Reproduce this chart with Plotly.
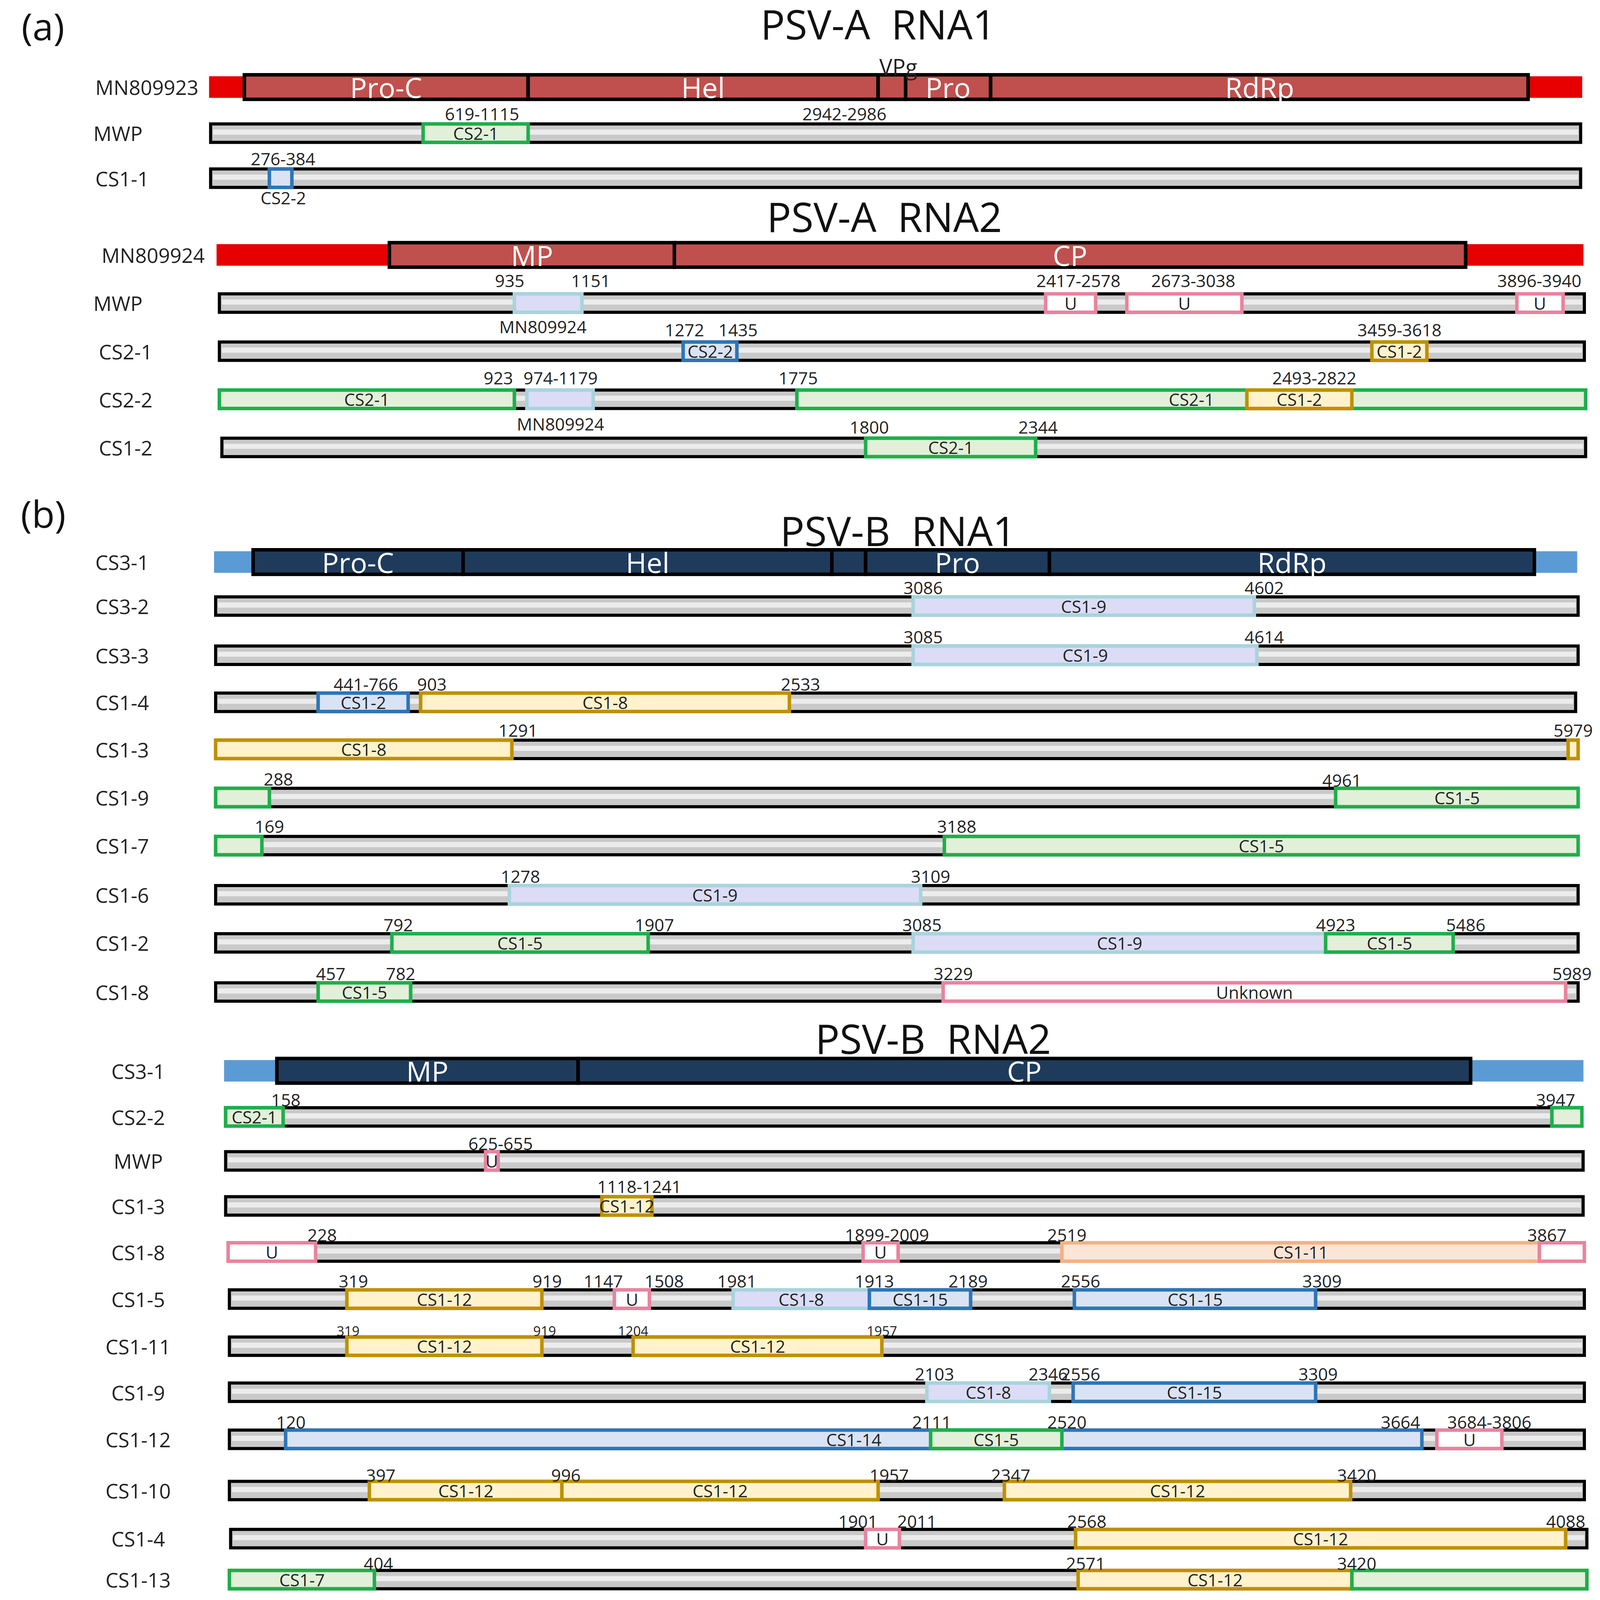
import plotly.graph_objects as go

# ---------------- rows: label, y-position (schematic), backbone start/end ----------------
row_names = ["MN809923","MWP","CS1-1",
             "MN809924","MWP","CS2-1","CS2-2","CS1-2",
             "CS3-1","CS3-2","CS3-3","CS1-4","CS1-3","CS1-9","CS1-7","CS1-6","CS1-2","CS1-8",
             "CS3-1","CS2-2","MWP","CS1-3","CS1-8","CS1-5","CS1-11","CS1-9","CS1-12","CS1-10","CS1-4","CS1-13"]
row_y = [82,127,171, 246,293,340,387,434,
         546,589,637,683,729,776,823,871,918,966,
         1043,1088,1131,1175,1220,1266,1312,1357,1403,1453,1500,1540]
row_x0 = [166,166,166, 172,173,173,173,175,
          170,170,170,170,170,170,170,170,170,170,
          178,178,178,178,180,181,181,181,181,181,182,181]
row_x1 = [1262,1262,1262, 1263,1265,1265,1266,1266,
          1258,1260,1260,1258,1260,1260,1260,1260,1260,1260,
          1263,1263,1264,1264,1265,1265,1265,1265,1265,1265,1267,1267]
row_kind = ["red","grey","grey","red","grey","grey","grey","grey",
            "blue"] + ["grey"]*9 + ["blue"] + ["grey"]*11
row_label_x = [115,92,95, 120,92,98,98,98] + [95]*10 + [108]*12

# ---------------- segments: row index, start, end, label, kind ----------------
seg_row = [0,0,0,0,0, 1, 2,
           3,3, 4,4,4,4, 5,5, 6,6,6,6, 7,
           8,8,8,8,8, 9, 10, 11,11, 12,12, 13,13, 14,14, 15, 16,16,16, 17,17,
           18,18, 19,19, 20, 21, 22,22,22,22, 23,23,23,23,23, 24,24, 25,25,
           26,26,26, 27,27,27, 28,28, 29,29,29]
seg_x0 = [193,420,700,722,790, 336, 213,
          309,537, 409,834,899,1211, 544,1095, 173,419,635,995, 690,
          200,368,663,690,837, 728, 728, 252,334, 170,1252, 170,1066, 170,753, 405, 311,728,1058, 252,752,
          219,460, 178,1239, 386, 479, 180,688,847,1229, 275,489,584,693,857, 275,504, 739,856,
          226,742,1147, 293,447,801, 690,858, 181,860,1079]
seg_x1 = [420,700,722,790,1220, 420, 231,
          537,1170, 463,874,991,1248, 587,1139, 409,472,1266,1079, 826,
          368,663,690,837,1225, 1001, 1003, 324,629, 407,1260, 213,1260, 207,1260, 734, 516,1058,1160, 326,1250,
          460,1174, 224,1263, 396, 519, 250,716,1229,1265, 431,517,693,774,1050, 431,703, 837,1050,
          1135,847,1199, 447,700,1078, 717,1250, 297,1079,1267]
seg_label = ["Pro-C","Hel","","Pro","RdRp", "CS2-1", "",
             "MP","CP", "","U","U","U", "CS2-2","CS1-2", "CS2-1","","CS2-1","CS1-2", "CS2-1",
             "Pro-C","Hel","","Pro","RdRp", "CS1-9", "CS1-9", "CS1-2","CS1-8", "CS1-8","", "","CS1-5", "","CS1-5",
             "CS1-9", "CS1-5","CS1-9","CS1-5", "CS1-5","Unknown",
             "MP","CP", "CS2-1","", "U", "CS1-12", "U","U","CS1-11","", "CS1-12","U","CS1-8","CS1-15","CS1-15",
             "CS1-12","CS1-12", "CS1-8","CS1-15",
             "CS1-14","CS1-5","U", "CS1-12","CS1-12","CS1-12", "U","CS1-12", "CS1-7","CS1-12",""]
seg_kind = ["gene"]*5 + ["green","blue"] + ["gene"]*2 + ["lav","pink","pink","pink","blue","yellow",
            "green","lav","green","yellow","green"] + ["dgene"]*5 + ["lav","lav","blue","yellow","yellow","yellow",
            "green","green","green","green","lav","green","lav","green","green","pink",
            "dgene","dgene","green","green","pink","yellow","pink","pink","orange","pink",
            "yellow","pink","lav","blue","blue","yellow","yellow","lav","blue",
            "blue","green","pink","yellow","yellow","yellow","pink","yellow","green","yellow","green"]

# ---------------- number annotations ----------------
num_text = ["619-1115","2942-2986","276-384","CS2-2","VPg",
            "935","1151","MN809924","2417-2578","2673-3038","3896-3940",
            "1272","1435","3459-3618",
            "923","974-1179","MN809924","1775","2493-2822",
            "1800","2344",
            "3086","4602","3085","4614","441-766","903","2533","1291","5979","288","4961","169","3188",
            "1278","3109","792","1907","3085","4923","5486","457","782","3229","5989",
            "158","3947","625-655","1118-1241","228","1899-2009","2519","3867",
            "319","919","1147","1508","1981","1913","2189","2556","3309",
            "2103","2346","2556","3309","120","2111","2520","3664","3684-3806",
            "397","996","1957","2347","3420","1901","2011","2568","4088","404","2571","3420"]
num_x = [383,673,224,224,716,
         405,470,432,860,952,1229, 545,588,1117, 396,446,446,636,1049, 693,828,
         736,1009,736,1009,290,343,638,412,1256,220,1071,213,763,
         414,742,316,521,735,1066,1170,262,318,760,1255,
         226,1242,398,509,255,707,851,1235,
         280,435,480,529,587,697,772,862,1055,
         745,836,862,1052,230,743,851,1118,1189,
         302,450,709,806,1083,684,731,867,1250,300,866,1083]
num_y = [108,108,152,190,62,
         271,271,316,271,271,271, 319,319,319, 366,366,411,366,366, 414,414,
         571,571,619,619,665,665,665,710,710,758,759,804,804,
         853,853,900,900,900,900,900,948,948,948,948,
         1071,1071,1114,1156,1203,1203,1203,1203,
         1248,1248,1248,1248,1248,1248,1248,1248,1248,
         1339,1339,1339,1339,1386,1386,1386,1386,1386,
         1438,1438,1438,1438,1438,1483,1483,1483,1483,1524,1524,1524]
small_nums = [("319",276,1297),("919",433,1297),("1204",504,1297),("1957",703,1297)]

titles = [("PSV-A  RNA1",700,20),("PSV-A  RNA2",705,208),("PSV-B  RNA1",716,515),("PSV-B  RNA2",744,1011)]
panels = [("(a)",32,22),("(b)",32,498)]

styles = {
    "grey":   ("#c9c9c9", "#000000", 18),
    "red":    ("#e60000", "#e60000", 18),
    "blue":   ("#5b9bd5", "#5b9bd5", 18),
    "gene":   ("#c0504d", "#000000", 24),
    "dgene":  ("#1f3b5c", "#000000", 24),
    "green":  ("#e2f0d9", "#1fae4b", 18),
    "lav":    ("#dcdcf7", "#a8d4dc", 18),
    "yellow": ("#fff2cc", "#bf9000", 18),
    "pink":   ("#ffffff", "#e8839f", 18),
    "orange": ("#fbe5d6", "#f4b183", 18),
}
segblue = ("#dae3f3", "#2e75b6", 18)

fig = go.Figure()
bk = [styles[k] for k in row_kind]
fig.add_trace(go.Bar(orientation="h", y=row_y, base=row_x0,
                     x=[b - a for a, b in zip(row_x0, row_x1)],
                     width=[s[2] for s in bk],
                     marker=dict(color=[s[0] for s in bk], line=dict(color=[s[1] for s in bk], width=8)),
                     hoverinfo="skip"))
gi = [i for i, k in enumerate(row_kind) if k == "grey"]
fig.add_trace(go.Bar(orientation="h", y=[row_y[i] - 1 for i in gi], base=[row_x0[i] + 2 for i in gi],
                     x=[row_x1[i] - row_x0[i] - 4 for i in gi], width=5,
                     marker=dict(color="#ececec", line=dict(width=0)), hoverinfo="skip"))
ss = [segblue if k == "blue" else styles[k] for k in seg_kind]
fig.add_trace(go.Bar(orientation="h", y=[row_y[r] for r in seg_row], base=seg_x0,
                     x=[b - a for a, b in zip(seg_x0, seg_x1)],
                     width=[s[2] for s in ss],
                     marker=dict(color=[s[0] for s in ss], line=dict(color=[s[1] for s in ss], width=9)),
                     hoverinfo="skip"))

ann = []
for r, a, b, lab, k in zip(seg_row, seg_x0, seg_x1, seg_label, seg_kind):
    if lab:
        big = k in ("gene", "dgene")
        ann.append(dict(x=(a + b) / 2, y=row_y[r], text=lab, showarrow=False,
                        font=dict(size=72 if big else 44, color="white" if big else "#222")))
for n, x, y in zip(row_names, row_label_x, row_y):
    ann.append(dict(x=x, y=y, text=n, showarrow=False, font=dict(size=52, color="#222")))
for t, x, y in zip(num_text, num_x, num_y):
    ann.append(dict(x=x, y=y, text=t, showarrow=False,
                    font=dict(size=56 if t == "VPg" else 44, color="#222")))
for t, x, y in small_nums:
    ann.append(dict(x=x, y=y, text=t, showarrow=False, font=dict(size=34, color="#222")))
for t, x, y in titles:
    ann.append(dict(x=x, y=y, text=t, showarrow=False, font=dict(size=104, color="#111")))
for t, x, y in panels:
    ann.append(dict(x=x, y=y, text=t, showarrow=False, font=dict(size=96, color="#111")))

fig.update_layout(autosize=True, barmode="overlay", showlegend=False,
                  paper_bgcolor="white", plot_bgcolor="white",
                  margin=dict(l=0, r=0, t=0, b=0), annotations=ann,
                  font=dict(family="Open Sans"),
                  xaxis=dict(range=[0, 1280], visible=False, fixedrange=True),
                  yaxis=dict(range=[1563, 0], visible=False, fixedrange=True))
fig.write_html("out.html", default_width="100vw", default_height="100vh",
               config={"responsive": True})
